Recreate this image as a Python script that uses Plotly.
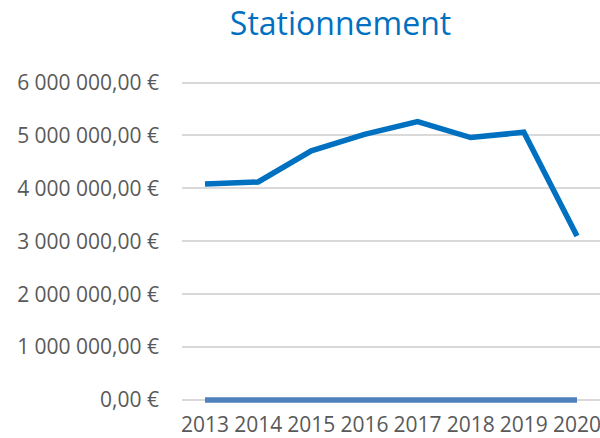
import plotly.graph_objects as go

years = [2013, 2014, 2015, 2016, 2017, 2018, 2019, 2020]
stationnement = [4080000, 4120000, 4710000, 5020000, 5260000, 4960000, 5060000, 3100000]
zero_series = [0, 0, 0, 0, 0, 0, 0, 0]
y_ticks = [0, 1000000, 2000000, 3000000, 4000000, 5000000, 6000000]
y_tick_labels = ["0,00 €", "1 000 000,00 €", "2 000 000,00 €", "3 000 000,00 €",
                 "4 000 000,00 €", "5 000 000,00 €", "6 000 000,00 €"]

FONT = "Open Sans"

fig = go.Figure()
fig.add_trace(go.Scatter(x=years, y=zero_series, mode="lines",
                         line=dict(color="#4F81BD", width=5.5), showlegend=False,
                         hoverinfo="skip"))
fig.add_trace(go.Scatter(x=years, y=stationnement, mode="lines",
                         line=dict(color="#0070C0", width=5.5), showlegend=False,
                         hoverinfo="skip"))

fig.update_layout(
    width=600, height=438,
    margin=dict(l=182, r=0, t=75, b=28, pad=0),
    paper_bgcolor="white", plot_bgcolor="white",
    title=dict(text="Stationnement", x=340.5/600, xref="container", xanchor="center",
               y=1 - 24/438, yref="container", yanchor="middle",
               font=dict(family=FONT, size=32, color="#0070C0")),
    font=dict(family=FONT, size=21, color="#595959"),
)
fig.update_xaxes(range=[2012.567, 2020.433], tickvals=years,
                 ticktext=[str(y) for y in years],
                 showgrid=False, zeroline=False, showline=False, ticks="",
                 automargin=False, ticklabeloverflow="allow",
                 ticklabelstandoff=0,
                 tickfont=dict(family=FONT, size=21, color="#595959"))
fig.update_yaxes(range=[-0.189e6, 6.142e6], tickvals=y_ticks, ticktext=y_tick_labels,
                 showgrid=True, gridcolor="#D9D9D9", gridwidth=1.5,
                 zeroline=False, showline=False, ticks="",
                 automargin=False, ticklabelstandoff=22,
                 tickfont=dict(family=FONT, size=21, color="#595959"))

fig.write_html("out.html", config={"displayModeBar": False},
               post_script="document.body.style.margin='0';document.body.style.overflow='hidden';")
